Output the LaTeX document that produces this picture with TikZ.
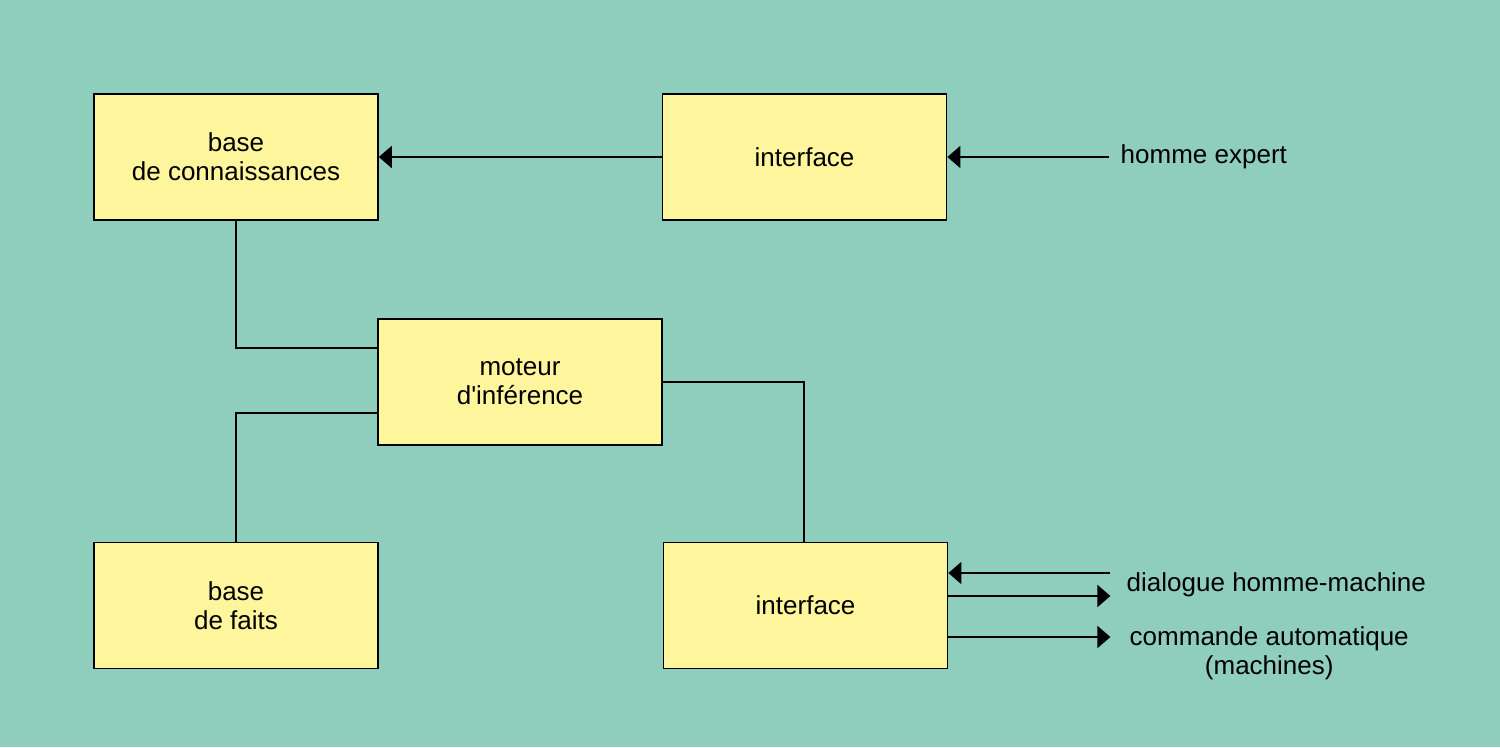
\documentclass[tikz,border=0pt]{standalone}
\usepackage{fontspec}
\setmainfont{Liberation Sans}
\usepackage{xcolor}
\usetikzlibrary{arrows.meta,positioning,calc}
\definecolor{backgr}{HTML}{8FCDBD}
\definecolor{boxfill}{HTML}{FFF59D}

\begin{document}
\begin{tikzpicture}[
  every node/.style={font=\fontsize{14.8}{16.5}\selectfont},
  block/.style={
    draw, rectangle, fill=boxfill, line width=0.9pt, align=center,
    minimum width=5.68cm, minimum height=2.52cm, inner sep=0pt
  },
  lbl/.style={inner sep=0pt, align=center},
  link/.style={line width=1.1pt},
  arr/.style={-{Triangle[length=0.26cm,width=0.44cm]}, line width=1.1pt}
]
% --- background ---
\fill[backgr] (0,0) rectangle (30,14.94);
\useasboundingbox (0,0) rectangle (30,14.94);

% --- blocks ---
\node[block] (kb) at (4.72,11.8) {base\\de connaissances};
\node[block, right=5.66cm of kb] (intexp) {interface};
\node[block] (mot) at (10.40,7.3) {moteur\\d\textquotesingle inférence};
\node[block] (bf) at (4.72,2.83) {base\\de faits};
\node[block, right=5.68cm of bf] (intmach) {interface};

% --- expert side ---
\coordinate (hx) at ($(intexp.east)+(3.24,0)$);
\draw[arr] (hx) -- (intexp.east);
\node[lbl, anchor=west, right=0.22cm of hx] {homme expert};
\draw[arr] (intexp.west) -- (kb.east);

% --- inference engine links ---
\draw[link] (kb.south) |- ($(mot.west)+(0,0.68)$);
\draw[link] (bf.north) |- ($(mot.west)+(0,-0.62)$);
\draw[link] (mot.east) -| ($(intmach.north)+(-0.04,0)$);

% --- machine side ---
\coordinate (din) at ($(intmach.east)+(3.24,0.65)$);
\coordinate (dout) at ($(intmach.east)+(3.24,0.19)$);
\coordinate (cmd) at ($(intmach.east)+(3.24,-0.63)$);
\draw[arr] (din) -- (din -| intmach.east);
\draw[arr] (dout -| intmach.east) -- (dout);
\draw[arr] (cmd -| intmach.east) -- (cmd);
\node[lbl, anchor=west] at ($(din)!0.5!(dout)+(0.32,0)$) {dialogue homme-machine};
\node[lbl, anchor=west] at ($(cmd)+(0.38,-0.32)$) {commande automatique\\(machines)};

\end{tikzpicture}
\end{document}
